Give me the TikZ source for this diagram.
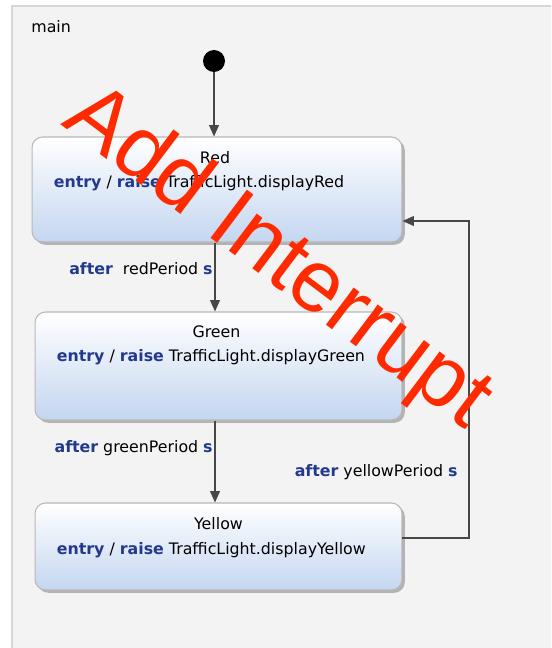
\documentclass[tikz,border=0pt]{standalone}
\usepackage{fontspec}
\setmainfont{DejaVu Sans}
\newfontfamily\stampfont{Liberation Sans}
\usetikzlibrary{arrows.meta,calc,shadows}

\definecolor{keyblue}{HTML}{23398C}
\definecolor{stateblue}{HTML}{C4D6F0}
\definecolor{framegray}{HTML}{F3F3F3}
\definecolor{stampred}{HTML}{FF2A00}
\definecolor{linegray}{HTML}{474747}

\newcommand{\kw}[1]{\textbf{\color{keyblue}#1}}

\tikzset{
    state/.style={draw=black!28, line width=0.6pt, rounded corners=6pt, inner sep=0pt,
        top color=white, bottom color=stateblue,
        drop shadow={shadow xshift=1.6pt, shadow yshift=-1.6pt, fill=black!50, opacity=0.55}},
    trans/.style={draw=linegray, line width=0.85pt, -{Triangle[length=6.5pt,width=5.6pt]}},
    txt/.style={inner sep=0pt, font=\fontsize{9}{10.8}\selectfont},
    initial/.style={circle, fill=black, minimum size=0.44cm, inner sep=0pt},
    stamp/.style={text=stampred, inner sep=0pt, font=\stampfont\fontsize{50}{60}\selectfont}
}

\begin{document}
\begin{tikzpicture}[x=0.02cm, y=-0.02cm]
    \useasboundingbox (0,0) rectangle (551,648);
    \clip (0,0) rectangle (551,648);

    % Region
    \fill[framegray] (12,6) rectangle (570,670);
    \draw[black!16, line width=0.6pt] (12,670) -- (12,6) -- (570,6);
    \node[txt, anchor=west] (mainlabel) at (31,27) {main};

    % States
    \node[initial] (init) at (214,61) {};
    \node[state, minimum width=7.4cm, minimum height=2.1cm] (red) at (217,189.5) {};
    \node[state, minimum width=7.34cm, minimum height=2.16cm] (green) at (218.5,366) {};
    \node[state, minimum width=7.34cm, minimum height=1.74cm] (yellow) at (218.5,546.5) {};

    \node[txt] (redname) at ($(red.north)+(-2,21)$) {Red};
    \node[txt, anchor=west] (redentry) at ($(red.north west)+(22,47)$) {\kw{entry} / \kw{raise} TrafficLight.displayRed};
    \node[txt] (greenname) at ($(green.north)+(-2,20)$) {Green};
    \node[txt, anchor=west] (greenentry) at ($(green.north west)+(22,46)$) {\kw{entry} / \kw{raise} TrafficLight.displayGreen};
    \node[txt] (yellowname) at ($(yellow.north)+(0,21)$) {Yellow};
    \node[txt, anchor=west] (yellowentry) at ($(yellow.north west)+(22,48)$) {\kw{entry} / \kw{raise} TrafficLight.displayYellow};

    % Transitions
    \coordinate (midline) at (215,0);
    \coordinate (loopline) at (469,0);
    \coordinate (yellowout) at ($(yellow.east)+(0,-8.5)$);
    \coordinate (redin) at ($(red.east)+(0,31.5)$);
    \draw[trans] (init) -- (init |- red.north);
    \draw[trans] (midline |- red.south) -- (midline |- green.north);
    \draw[trans] (midline |- green.south) -- (midline |- yellow.north);
    \draw[trans] (yellowout) -- (yellowout -| loopline) -- (redin -| loopline) -- (redin);

    \node[txt, anchor=east] (redguard) at (213,269) {\kw{after}\ \ redPeriod \kw{s}};
    \node[txt, anchor=east] (greenguard) at (213,448) {\kw{after} greenPeriod \kw{s}};
    \node[txt, anchor=east] (yellowguard) at (458,472) {\kw{after} yellowPeriod \kw{s}};

    % Stempel
    \node[stamp, rotate=-37] (interrupt) at (277,259) {Add Interrupt};
\end{tikzpicture}
\end{document}
